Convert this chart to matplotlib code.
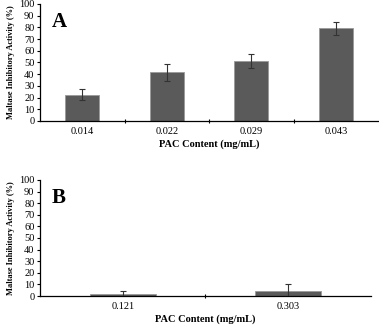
import matplotlib
matplotlib.use("Agg")
import matplotlib.pyplot as plt
import numpy as np

plt.rcParams['font.family'] = ['Liberation Serif', 'DejaVu Serif']

cats_a = ["0.014", "0.022", "0.029", "0.043"]
vals_a = [22.5, 41.5, 51.0, 79.0]
err_a = [5.0, 7.0, 6.0, 5.5]

cats_b = ["0.121", "0.303"]
vals_b = [1.5, 4.5]
err_b = [3.0, 5.5]

yticks = list(range(0, 101, 10))
bar_color = "#5a5a5a"

fig = plt.figure(figsize=(3.79, 3.26), dpi=100)

def panel(rect, cats, vals, errs, letter):
    ax = fig.add_axes(rect)
    n = len(cats)
    x = np.arange(n)
    ax.bar(x, vals, width=0.4, color=bar_color, edgecolor="#9a9a9a", linewidth=0.6, zorder=2)
    ax.errorbar(x, vals, yerr=errs, fmt="none", ecolor="#333333", elinewidth=0.8,
                capsize=2.5, capthick=0.8, zorder=3)
    ax.set_xlim(-0.5, n - 0.5)
    ax.set_ylim(0, 100)
    ax.set_yticks(yticks)
    ax.set_yticklabels([str(t) for t in yticks], fontsize=7.5)
    ax.set_xticks(x)
    ax.set_xticklabels(cats, fontsize=7.5)
    ax.tick_params(axis="x", length=0, pad=4)
    ax.tick_params(axis="y", length=2.5, width=0.8, pad=1.5, direction="out")
    ax.set_xticks(np.arange(0.5, n - 0.5, 1.0), minor=True)
    ax.tick_params(axis="x", which="minor", length=2.5, width=0.8, direction="inout")
    for s in ["top", "right"]:
        ax.spines[s].set_visible(False)
    ax.spines["left"].set_linewidth(0.9)
    ax.spines["bottom"].set_linewidth(0.9)
    ax.set_ylabel("Maltase Inhibitory Activity (%)", fontsize=6, fontweight="bold",
                  labelpad=3)
    ax.set_xlabel("PAC Content (mg/mL)", fontsize=7.5, fontweight="bold", labelpad=2.5)
    ax.text(0.035, 0.93, letter, transform=ax.transAxes, fontsize=15,
            fontweight="bold", va="top", ha="left")
    return ax

panel([0.1055, 0.629, 0.892, 0.359], cats_a, vals_a, err_a, "A")
panel([0.1055, 0.092, 0.873, 0.356], cats_b, vals_b, err_b, "B")

fig.savefig("out.png", dpi=100)
